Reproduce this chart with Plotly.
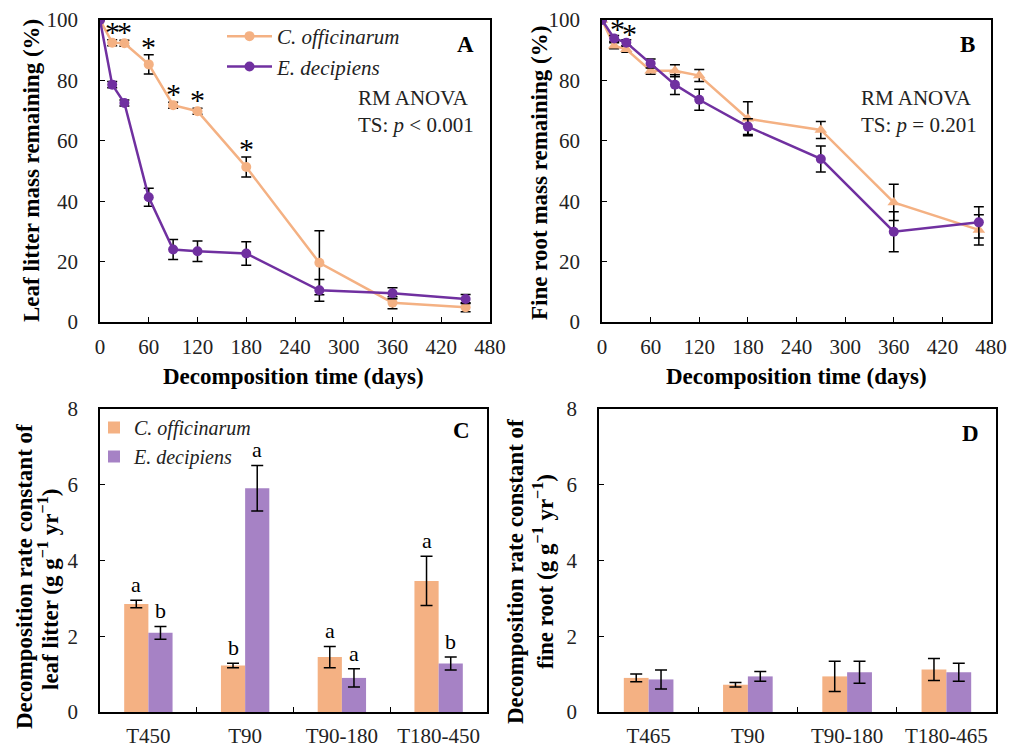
import plotly.graph_objects as go

# ---------------- data ----------------
days_leaf = [0, 15, 30, 60, 90, 120, 180, 270, 360, 450]
leaf_co = [100, 92.5, 92.3, 85.3, 71.8, 69.8, 51.3, 19.6, 6.4, 4.9]
leaf_co_err = [0, 1.0, 1.0, 3.2, 1.0, 1.0, 3.3, 10.6, 2.0, 1.5]
leaf_ed = [100, 78.6, 72.5, 41.3, 24.0, 23.4, 22.7, 10.5, 9.5, 7.6]
leaf_ed_err = [0, 1.0, 1.0, 3.0, 3.3, 3.4, 3.9, 3.6, 1.8, 1.5]
sig_leaf = [15, 30, 60, 90, 120, 180]

days_root = [0, 15, 30, 60, 90, 120, 180, 270, 360, 465]
root_co = [100, 91.5, 90.3, 83.2, 83.2, 81.6, 67.3, 63.6, 39.6, 30.5]
root_co_err = [0, 1.0, 1.0, 1.2, 2.0, 2.0, 5.6, 2.8, 6.0, 5.0]
root_ed = [100, 93.9, 92.5, 85.6, 78.6, 73.6, 64.7, 54.0, 29.9, 33.0]
root_ed_err = [0, 1.0, 1.0, 1.5, 3.3, 3.5, 2.6, 4.3, 6.6, 5.2]
sig_root = [15, 30]

cats_leaf = ["T450", "T90", "T90-180", "T180-450"]
k_leaf_co = [2.85, 1.23, 1.45, 3.46]
k_leaf_co_err = [0.10, 0.06, 0.28, 0.65]
k_leaf_ed = [2.09, 5.91, 0.90, 1.28]
k_leaf_ed_err = [0.17, 0.60, 0.24, 0.17]
letters_co = ["a", "b", "a", "a"]
letters_ed = ["b", "a", "a", "b"]

cats_root = ["T465", "T90", "T90-180", "T180-465"]
k_root_co = [0.90, 0.72, 0.94, 1.12]
k_root_co_err = [0.10, 0.06, 0.40, 0.29]
k_root_ed = [0.86, 0.94, 1.05, 1.05]
k_root_ed_err = [0.25, 0.13, 0.29, 0.24]

# ---------------- style ----------------
W, H = 1020, 747
FONT = "'Liberation Serif', 'Times New Roman', Times, serif"
ORANGE_LINE = "#F4B183"
PURPLE_LINE = "#7030A0"
ORANGE_BAR = "#F4B183"
PURPLE_BAR = "#A682C5"
BLACK = "#000000"


def px_x(p):
    return p / W


def px_y(p):
    return 1 - p / H


fig = go.Figure()

err_style = dict(type="data", color=BLACK, thickness=1.5, width=5, visible=True)

# Panel A
fig.add_trace(go.Scatter(x=days_leaf, y=leaf_co, mode="lines+markers", name="C. officinarum",
                         line=dict(color=ORANGE_LINE, width=2.5),
                         marker=dict(symbol="circle", size=10, color=ORANGE_LINE),
                         error_y=dict(array=leaf_co_err, **err_style),
                         xaxis="x", yaxis="y", legend="legend"))
fig.add_trace(go.Scatter(x=days_leaf, y=leaf_ed, mode="lines+markers", name="E. decipiens",
                         line=dict(color=PURPLE_LINE, width=2.5),
                         marker=dict(symbol="circle", size=10, color=PURPLE_LINE),
                         error_y=dict(array=leaf_ed_err, **err_style),
                         xaxis="x", yaxis="y", legend="legend"))

# Panel B
fig.add_trace(go.Scatter(x=days_root, y=root_co, mode="lines+markers", name="C. officinarum",
                         line=dict(color=ORANGE_LINE, width=2.5),
                         marker=dict(symbol="triangle-up", size=11, color=ORANGE_LINE),
                         error_y=dict(array=root_co_err, **err_style),
                         xaxis="x2", yaxis="y2", showlegend=False))
fig.add_trace(go.Scatter(x=days_root, y=root_ed, mode="lines+markers", name="E. decipiens",
                         line=dict(color=PURPLE_LINE, width=2.5),
                         marker=dict(symbol="circle", size=10, color=PURPLE_LINE),
                         error_y=dict(array=root_ed_err, **err_style),
                         xaxis="x2", yaxis="y2", showlegend=False))

bar_err = dict(type="data", color=BLACK, thickness=1.5, width=6, visible=True)
# Panel C
fig.add_trace(go.Bar(x=cats_leaf, y=k_leaf_co, name="C. officinarum", marker=dict(color=ORANGE_BAR, line=dict(width=0)),
                     error_y=dict(array=k_leaf_co_err, **bar_err), xaxis="x3", yaxis="y3", legend="legend2"))
fig.add_trace(go.Bar(x=cats_leaf, y=k_leaf_ed, name="E. decipiens", marker=dict(color=PURPLE_BAR, line=dict(width=0)),
                     error_y=dict(array=k_leaf_ed_err, **bar_err), xaxis="x3", yaxis="y3", legend="legend2"))
# Panel D
fig.add_trace(go.Bar(x=cats_root, y=k_root_co, name="C. officinarum", marker=dict(color=ORANGE_BAR, line=dict(width=0)),
                     error_y=dict(array=k_root_co_err, **bar_err), xaxis="x4", yaxis="y4", showlegend=False,
                     offsetgroup="co"))
fig.add_trace(go.Bar(x=cats_root, y=k_root_ed, name="E. decipiens", marker=dict(color=PURPLE_BAR, line=dict(width=0)),
                     error_y=dict(array=k_root_ed_err, **bar_err), xaxis="x4", yaxis="y4", showlegend=False,
                     offsetgroup="ed"))

tickfont = dict(family=FONT, size=21, color="#222222")
axis_common = dict(showline=True, linecolor=BLACK, linewidth=1.5, mirror=True, ticks="inside",
                   ticklen=5, tickwidth=1.2, tickcolor=BLACK, showgrid=False, zeroline=False,
                   tickfont=tickfont, automargin=False)

dom_top = [px_y(322), px_y(20)]
dom_bot = [px_y(712), px_y(409)]

fig.update_layout(
    width=W, height=H, margin=dict(l=0, r=0, t=0, b=0, pad=0, autoexpand=False),
    paper_bgcolor="white", plot_bgcolor="white",
    font=dict(family=FONT, color="#222222"),
    barmode="group", bargap=0.5, bargroupgap=0,
    xaxis=dict(domain=[px_x(100), px_x(490)], range=[0, 480], dtick=60, tick0=0, anchor="y",
               ticklabelstandoff=5, **axis_common),
    yaxis=dict(domain=dom_top, range=[0, 100], dtick=20, anchor="x", ticklabelstandoff=16, **axis_common),
    xaxis2=dict(domain=[px_x(602), px_x(991)], range=[0, 480], dtick=60, tick0=0, anchor="y2",
                ticklabelstandoff=5, **axis_common),
    yaxis2=dict(domain=dom_top, range=[0, 100], dtick=20, anchor="x2", ticklabelstandoff=16, **axis_common),
    xaxis3=dict(domain=[px_x(100), px_x(487)], type="category", tickson="boundaries", anchor="y3",
                ticklabelstandoff=4, **axis_common),
    yaxis3=dict(domain=dom_bot, range=[0, 8], dtick=2, anchor="x3", ticklabelstandoff=16, **axis_common),
    xaxis4=dict(domain=[px_x(599), px_x(996)], type="category", tickson="boundaries", anchor="y4",
                ticklabelstandoff=4, **axis_common),
    yaxis4=dict(domain=dom_bot, range=[0, 8], dtick=2, anchor="x4", ticklabelstandoff=16, **axis_common),
    legend=dict(x=px_x(222), y=px_y(16), xanchor="left", yanchor="top", bgcolor="rgba(0,0,0,0)",
                font=dict(family=FONT, size=21, style="italic", color="#222222"),
                itemwidth=45, tracegroupgap=0),
    legend2=dict(x=px_x(94), y=px_y(408), xanchor="left", yanchor="top", bgcolor="rgba(0,0,0,0)",
                 font=dict(family=FONT, size=20, style="italic", color="#222222"),
                 itemwidth=30, tracegroupgap=0),
)

ann = []
title_font = dict(family=FONT, size=23, color=BLACK, weight="bold")
text_font = dict(family=FONT, size=21, color="#222222")


def rot_title(text, x, y):
    return dict(text="<b>%s</b>" % text, x=px_x(x), y=px_y(y), xref="paper", yref="paper",
                xanchor="center", yanchor="middle", textangle=-90, showarrow=False, font=title_font)


# y titles
ann.append(rot_title("Leaf litter mass remaining (%)", 32, 171))
ann.append(rot_title("Fine root mass remaining (%)", 539, 173))
ann.append(rot_title("Decomposition rate constant of", 24, 577))
ann.append(rot_title("leaf litter (g g<sup>−1</sup> yr<sup>−1</sup>)", 48, 590))
ann.append(rot_title("Decomposition rate constant of", 515, 572))
ann.append(rot_title("fine root (g g<sup>−1</sup> yr<sup>−1</sup>)", 543, 572))
# x titles
for xc in (293, 796):
    ann.append(dict(text="<b>Decomposition time (days)</b>", x=px_x(xc), y=px_y(377), xref="paper", yref="paper",
                    xanchor="center", yanchor="middle", showarrow=False, font=title_font))

# panel letters
for lab, x, y in [("A", 465, 45), ("B", 967, 45), ("C", 461, 431), ("D", 970, 433)]:
    ann.append(dict(text="<b>%s</b>" % lab, x=px_x(x), y=px_y(y), xref="paper", yref="paper",
                    xanchor="center", yanchor="middle",
                    showarrow=False, font=dict(family=FONT, size=23, color=BLACK)))

# stats text
ann.append(dict(text="RM ANOVA<br>TS: <i>p</i> &lt; 0.001", x=px_x(476), y=px_y(112), xref="paper", yref="paper",
                xanchor="right", yanchor="middle", align="left", showarrow=False, font=text_font))
ann.append(dict(text="RM ANOVA<br>TS: <i>p</i> = 0.201", x=px_x(979), y=px_y(112), xref="paper", yref="paper",
                xanchor="right", yanchor="middle", align="left", showarrow=False, font=text_font))

# significance stars
for d in sig_leaf:
    i = days_leaf.index(d)
    ann.append(dict(text="*", x=d, y=leaf_co[i] + leaf_co_err[i], xref="x", yref="y", yanchor="bottom",
                    showarrow=False, yshift=-10, font=dict(family=FONT, size=30, color=BLACK)))
for k, d in enumerate(sig_root):
    i = days_root.index(d)
    ann.append(dict(text="*", x=d, y=root_ed[i] + root_ed_err[i], xref="x2", yref="y2", yanchor="bottom",
                    showarrow=False, yshift=-12, xshift=3, font=dict(family=FONT, size=30, color=BLACK)))

# letters above bars in C
for c, v, e, l in zip(cats_leaf, k_leaf_co, k_leaf_co_err, letters_co):
    ann.append(dict(text=l, x=c, y=v + e, xref="x3", yref="y3", yanchor="bottom", xshift=-12, yshift=1,
                    showarrow=False, font=dict(family=FONT, size=22, color=BLACK)))
for c, v, e, l in zip(cats_leaf, k_leaf_ed, k_leaf_ed_err, letters_ed):
    ann.append(dict(text=l, x=c, y=v + e, xref="x3", yref="y3", yanchor="bottom", xshift=12, yshift=1,
                    showarrow=False, font=dict(family=FONT, size=22, color=BLACK)))

fig.update_layout(annotations=ann)
fig.write_html("out.html")
